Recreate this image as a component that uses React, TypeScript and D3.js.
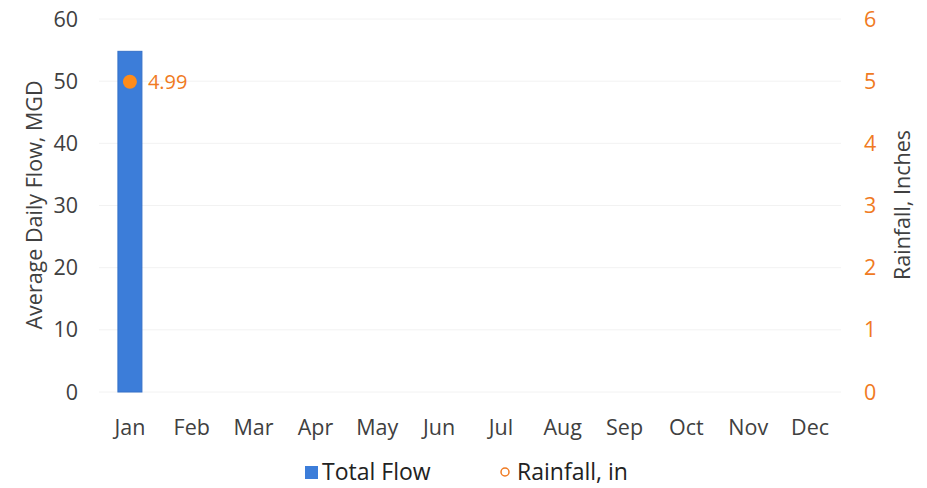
import React from "react";
import * as d3 from "d3";

const months = ["Jan", "Feb", "Mar", "Apr", "May", "Jun", "Jul", "Aug", "Sep", "Oct", "Nov", "Dec"];
const totalFlow: (number | null)[] = [54.8, null, null, null, null, null, null, null, null, null, null, null];
const rainfall: (number | null)[] = [4.99, null, null, null, null, null, null, null, null, null, null, null];
const leftTicks = [0, 10, 20, 30, 40, 50, 60];
const rightTicks = [0, 1, 2, 3, 4, 5, 6];

const W = 927, H = 488;
const plotL = 99, plotR = 841, plotT = 19, plotB = 392;
const BLUE = "#3C7DD9";
const ORANGE = "#F07A22";
const FONT = "'Open Sans', 'Noto Sans', sans-serif";
const FS = 21.5;

export default function App() {
  const xc = d3.scalePoint<string>().domain(months).range([plotL, plotR]).padding(0.5);
  const yL = d3.scaleLinear().domain([0, 60]).range([plotB, plotT]);
  const yR = d3.scaleLinear().domain([0, 6]).range([plotB, plotT]);
  const barW = 24;
  const midY = 205;

  return (
    <svg width={W} height={H} style={{ position: "absolute", left: 0, top: 0, background: "#fff" }}>
      <rect width={W} height={H} fill="#fff" />
      {leftTicks.map((t) => (
        <line key={"g" + t} x1={plotL} x2={plotR} y1={yL(t)} y2={yL(t)} stroke="#f2f2f2" strokeWidth={1} />
      ))}
      {totalFlow.map((v, i) =>
        v == null ? null : (
          <rect key={"b" + i} x={(xc(months[i]) as number) - barW / 2} y={yL(v)} width={barW} height={plotB - yL(v)} fill={BLUE} stroke="#3470C8" strokeWidth={1} />
        )
      )}
      {rainfall.map((v, i) =>
        v == null ? null : (
          <g key={"r" + i}>
            <circle cx={xc(months[i]) as number} cy={yR(v)} r={7} fill="#FF8C1A" />
            <text x={(xc(months[i]) as number) + 18} y={yR(v)} dy="0.35em" fill={ORANGE} fontSize={20} fontFamily={FONT}>
              {v.toFixed(2)}
            </text>
          </g>
        )
      )}
      {leftTicks.map((t) => (
        <text key={"l" + t} x={78} y={yL(t)} dy="0.35em" textAnchor="end" fill="#404040" fontSize={FS} fontFamily={FONT}>
          {t}
        </text>
      ))}
      {rightTicks.map((t) => (
        <text key={"r" + t} x={864} y={yR(t)} dy="0.35em" textAnchor="start" fill={ORANGE} fontSize={FS} fontFamily={FONT}>
          {t}
        </text>
      ))}
      {months.map((m) => (
        <text key={m} x={xc(m) as number} y={427} dy="0.35em" textAnchor="middle" fill="#404040" fontSize={FS} fontFamily={FONT}>
          {m}
        </text>
      ))}
      <text transform={`translate(34,${midY}) rotate(-90)`} textAnchor="middle" dy="0.35em" fill="#404040" fontSize={FS} fontFamily={FONT}>
        Average Daily Flow, MGD
      </text>
      <text transform={`translate(902,${midY}) rotate(-90)`} textAnchor="middle" dy="0.35em" fill="#404040" fontSize={FS} fontFamily={FONT}>
        Rainfall, Inches
      </text>
      <rect x={305} y={466} width={13} height={13} fill={BLUE} />
      <text x={322} y={472} dy="0.35em" fill="#222" fontSize={23} fontFamily={FONT}>Total Flow</text>
      <circle cx={505} cy={472} r={4} fill="none" stroke={ORANGE} strokeWidth={1.5} />
      <text x={517} y={472} dy="0.35em" fill="#222" fontSize={23} fontFamily={FONT}>Rainfall, in</text>
    </svg>
  );
}
